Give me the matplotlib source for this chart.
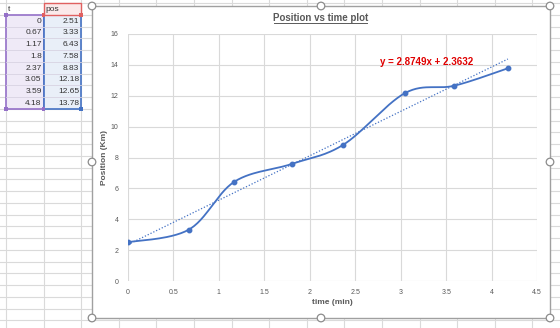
import numpy as np
import matplotlib.pyplot as plt
from matplotlib.patches import Rectangle, Circle

plt.rcParams['font.family'] = ['Liberation Sans', 'DejaVu Sans']

# data from the sheet
t = [0, 0.67, 1.17, 1.8, 2.37, 3.05, 3.59, 4.18]
pos = [2.51, 3.33, 6.43, 7.58, 8.83, 12.18, 12.65, 13.78]
t_labels = ["0", "0.67", "1.17", "1.8", "2.37", "3.05", "3.59", "4.18"]
pos_labels = ["2.51", "3.33", "6.43", "7.58", "8.83", "12.18", "12.65", "13.78"]
slope = 2.8749
intercept = 2.3632
xticks = [0, 0.5, 1, 1.5, 2, 2.5, 3, 3.5, 4, 4.5]
xticklabels = ["0", "0.5", "1", "1.5", "2", "2.5", "3", "3.5", "4", "4.5"]
yticks = [0, 2, 4, 6, 8, 10, 12, 14, 16]

W, H = 560, 328
blue = "#4472C4"
grey_txt = "#595959"


def smooth(x, y, n=30):
    # catmull-rom, like excel's smoothed line
    x = np.asarray(x, float)
    y = np.asarray(y, float)
    px = np.r_[x[0], x, x[-1]]
    py = np.r_[y[0], y, y[-1]]
    s = np.linspace(0, 1, n)
    xs, ys = [], []
    for i in range(len(x) - 1):
        for p, out in ((px, xs), (py, ys)):
            p0, p1, p2, p3 = p[i:i + 4]
            c1 = p1 + (p2 - p0) / 6
            c2 = p2 - (p3 - p1) / 6
            out.append((1 - s) ** 3 * p1 + 3 * (1 - s) ** 2 * s * c1
                       + 3 * (1 - s) * s ** 2 * c2 + s ** 3 * p2)
    return np.concatenate(xs), np.concatenate(ys)


fig = plt.figure(figsize=(W / 100, H / 100), dpi=100)

# spreadsheet background
bg = fig.add_axes([0, 0, 1, 1])
bg.set_xlim(0, W)
bg.set_ylim(H, 0)
bg.axis("off")
col_w, row_h = 37.6, 11.75
x0, y0 = 6, 3
for k in range(16):
    bg.axvline(x0 + k * col_w, color="#DADADA", lw=0.8, zorder=0)
for k in range(28):
    bg.axhline(y0 + k * row_h, color="#DADADA", lw=0.8, zorder=0)

n = len(t)
xa, xb, xc = x0, x0 + col_w, x0 + 2 * col_w
# highlighted ranges
bg.add_patch(Rectangle((xa, y0 + row_h), col_w, n * row_h, fc="#EFEAF7",
                       ec="#9470C8", lw=1.2, zorder=1))
bg.add_patch(Rectangle((xb, y0 + row_h), col_w, n * row_h, fc="#E9EFF8",
                       ec=blue, lw=1.2, zorder=1))
bg.add_patch(Rectangle((xb, y0), col_w, row_h, fc="#FBE9EA",
                       ec="#E06060", lw=1.0, zorder=1))
for k in range(1, n):
    yy = y0 + (k + 1) * row_h
    bg.plot([xa, xc], [yy, yy], color="#D8D3E2", lw=0.6, zorder=1)
bg.text(xa + 2, y0 + row_h / 2 + 0.5, "t", fontsize=6, color="#333333",
        va="center", ha="left", zorder=2)
bg.text(xb + 2, y0 + row_h / 2 + 0.5, "pos", fontsize=6, color="#333333",
        va="center", ha="left", zorder=2)
for i in range(n):
    yy = y0 + (i + 1.5) * row_h + 0.5
    bg.text(xb - 2, yy, t_labels[i], fontsize=6, color="#333333",
            va="center", ha="right", zorder=2)
    bg.text(xc - 2, yy, pos_labels[i], fontsize=6, color="#333333",
            va="center", ha="right", zorder=2)
for (hx, hy, c) in [(xa, y0 + row_h, "#9470C8"), (xb, y0 + row_h, "#9470C8"),
                    (xa, y0 + (n + 1) * row_h, "#9470C8"),
                    (xb, y0 + (n + 1) * row_h, "#9470C8"),
                    (xb, y0 + row_h, "#E06060"), (xc, y0 + row_h, "#E06060"),
                    (xc, y0 + (n + 1) * row_h, blue)]:
    bg.add_patch(Rectangle((hx - 1.8, hy - 1.8), 3.6, 3.6, fc=c, ec="none", zorder=3))

# chart area
cl, cr, ct, cb = 92, 550, 6, 318
bg.add_patch(Rectangle((cl, ct), cr - cl, cb - ct, fc="white", ec="#A0A0A0",
                       lw=1.0, zorder=4))
cx = (cl + cr) / 2
bg.text(cx, 18, "Position vs time plot", fontsize=7, fontweight="bold",
        color=grey_txt, ha="center", va="center", zorder=5)
bg.plot([274, 367], [22.5, 22.5], color=grey_txt, lw=0.7, zorder=5)

ax = fig.add_axes([128 / W, 1 - 281 / H, (537 - 128) / W, (281 - 34) / H])
ax.set_zorder(5)
ax.patch.set_alpha(0)
ax.set_xlim(0, 4.5)
ax.set_ylim(0, 16)
ax.set_xticks(xticks)
ax.set_xticklabels(xticklabels)
ax.set_yticks(yticks)
ax.grid(True, color="#D9D9D9", lw=0.8)
ax.set_axisbelow(True)
for s in ax.spines.values():
    s.set_visible(False)
ax.tick_params(length=0, labelsize=5, labelcolor=grey_txt)
ax.tick_params(axis="x", pad=6)
ax.tick_params(axis="y", pad=7)

sx, sy = smooth(t, pos)
ax.plot(sx, sy, color=blue, lw=1.3, zorder=3)
ax.plot(t, pos, "o", color=blue, ms=3.2, zorder=4)
tx = np.array([t[0], t[-1]])
ax.plot(tx, slope * tx + intercept, color=blue, lw=0.9, ls=(0, (1, 1.5)), zorder=3)
ax.text(3.29, 14.18, f"y = {slope}x + {intercept}", fontsize=7,
        fontweight="bold", color="#E00000", ha="center", va="center")

ax.set_xlabel("time (min)", fontsize=6, fontweight="bold", color=grey_txt)
ax.set_ylabel("Position (Km)", fontsize=6, fontweight="bold", color=grey_txt)
ax.xaxis.set_label_coords(0.5, -22 / 247)
ax.yaxis.set_label_coords(-23 / 409, 0.5)
ax.xaxis.label.set_va("center")
ax.yaxis.label.set_va("center")

# selection handles
ov = fig.add_axes([0, 0, 1, 1])
ov.set_zorder(10)
ov.set_xlim(0, W)
ov.set_ylim(H, 0)
ov.axis("off")
for hx in (cl, cx, cr):
    for hy in (ct, (ct + cb) / 2, cb):
        if hx == cx and hy == (ct + cb) / 2:
            continue
        ov.add_patch(Circle((hx, hy), 3.8, fc="white", ec="#8C8C8C", lw=0.9))

fig.savefig("out.png", dpi=100)
